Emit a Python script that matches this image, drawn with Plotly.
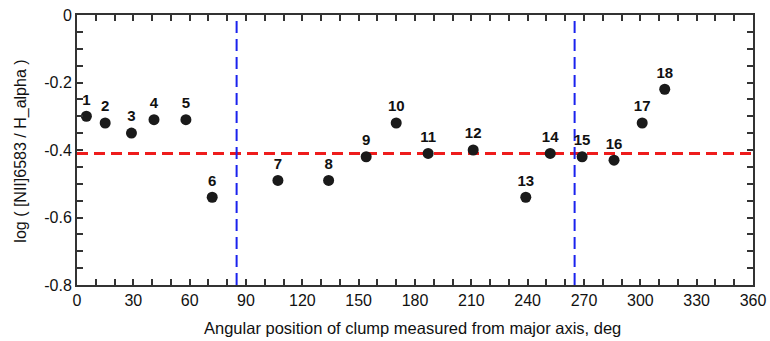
import plotly.graph_objects as go

clump_ids = [str(i) for i in range(1, 19)]
angle_deg = [5, 15, 29, 41, 58, 72, 107, 134, 154, 170, 187, 211, 239, 252, 269, 286, 301, 313]
log_ratio = [-0.30, -0.32, -0.35, -0.31, -0.31, -0.54, -0.49, -0.49, -0.42, -0.32, -0.41, -0.40,
             -0.54, -0.41, -0.42, -0.43, -0.32, -0.22]
mean_level = -0.41
axis_lines = [85, 265]

x_ticks = list(range(0, 361, 30))
y_ticks = [0, -0.2, -0.4, -0.6, -0.8]
y_ticktext = ["0", "-0.2", "-0.4", "-0.6", "-0.8"]
x_title = "Angular position of clump measured from major axis, deg"
y_title = "log ( [NII]6583 / H_alpha )"

FONT = "Liberation Sans, Arial"

fig = go.Figure()

fig.add_trace(go.Scatter(
    x=[0, 360], y=[mean_level, mean_level], mode="lines",
    line=dict(color="#ee1c1c", width=3, dash="11px,6px"),
    hoverinfo="skip", showlegend=False))
for xv in axis_lines:
    fig.add_trace(go.Scatter(
        x=[xv, xv], y=[-0.8, 0], mode="lines",
        line=dict(color="#1a22ee", width=2, dash="12px,6px"),
        hoverinfo="skip", showlegend=False))

fig.add_trace(go.Scatter(
    x=angle_deg, y=log_ratio, mode="markers+text",
    text=clump_ids, textposition="top center",
    textfont=dict(family=FONT, size=15, color="#111111", weight="bold"),
    marker=dict(size=11, color="#1a1a1a"),
    cliponaxis=False,
    showlegend=False))

axis_common = dict(
    showline=True, linecolor="#333333", linewidth=2, mirror="allticks",
    ticks="inside", ticklen=6, tickwidth=1.5, tickcolor="#333333",
    showgrid=False, zeroline=False, automargin=False,
    ticklabeloverflow="allow",
    tickfont=dict(family=FONT, size=16, color="#111111"),
)

fig.update_xaxes(
    range=[0, 360], tickmode="array", tickvals=x_ticks,
    minor=dict(tickmode="array", tickvals=list(range(0, 361, 10)), ticks="inside",
               ticklen=6, tickwidth=1.5, tickcolor="#333333"),
    **axis_common)
fig.update_yaxes(
    range=[-0.8, 0], tickmode="array", tickvals=y_ticks, ticktext=y_ticktext,
    minor=dict(tickmode="array", tickvals=[round(-0.05 * i, 2) for i in range(17)],
               ticks="inside", ticklen=6, tickwidth=1.5, tickcolor="#333333"),
    **axis_common)

fig.add_annotation(text=x_title, xref="paper", yref="paper", x=0.4956, y=-0.159,
                   xanchor="center", yanchor="middle", showarrow=False,
                   font=dict(family=FONT, size=16.5, color="#111111"))
fig.add_annotation(text=y_title, xref="paper", yref="paper", x=-0.0828, y=0.494,
                   xanchor="center", yanchor="middle", showarrow=False, textangle=-90,
                   font=dict(family=FONT, size=16, color="#111111"))

fig.update_layout(
    width=770, height=341,
    margin=dict(l=77, r=17, t=15, b=56),
    plot_bgcolor="white", paper_bgcolor="white",
)

fig.write_html("out.html", config={"displayModeBar": False},
               post_script="document.body.style.margin='0';")
